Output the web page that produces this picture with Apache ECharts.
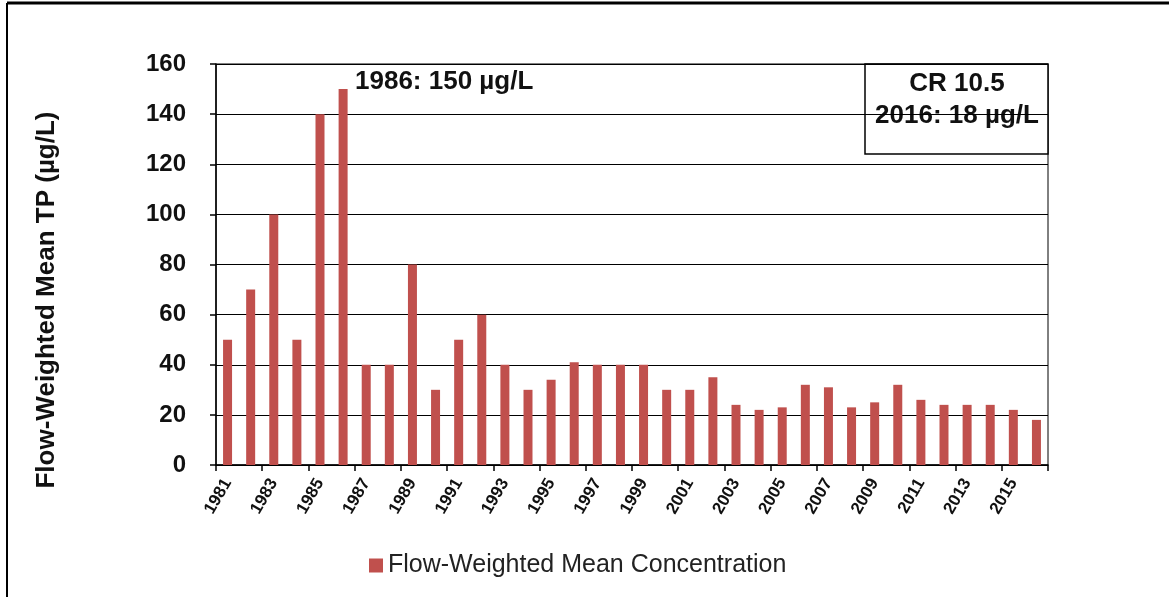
<!DOCTYPE html>
<html>
<head>
<meta charset="utf-8">
<script src="https://cdn.jsdelivr.net/npm/echarts@6/dist/echarts.min.js"></script>
<style>
  html, body { margin: 0; padding: 0; background: #fff; }
  #chart { width: 1169px; height: 597px; }
</style>
</head>
<body>
<div id="chart"></div>
<script>
// years 1981 - 2016
const years = ['1981', '1982', '1983', '1984', '1985', '1986', '1987', '1988', '1989', '1990',
  '1991', '1992', '1993', '1994', '1995', '1996', '1997', '1998', '1999', '2000',
  '2001', '2002', '2003', '2004', '2005', '2006', '2007', '2008', '2009', '2010',
  '2011', '2012', '2013', '2014', '2015', '2016']
// flow-weighted mean TP, µg/L
const tpValues = [50, 70, 100, 50, 140, 150, 40, 40, 80, 30,
  50, 60, 40, 30, 34, 41, 40, 40, 40, 30,
  30, 35, 24, 22, 23, 32, 31, 23, 25, 32,
  26, 24, 24, 24, 22, 18]
const seriesName = 'Flow-Weighted Mean Concentration'
const yAxisTitle = 'Flow-Weighted Mean TP (µg/L)'
const peakNote = '1986: 150 µg/L'
const boxLines = ['CR 10.5', '2016: 18 µg/L']

const font = 'Liberation Sans, Arial, sans-serif'
const chart = echarts.init(document.getElementById('chart'))

chart.setOption({
  animation: false,
  backgroundColor: '#fff',
  grid: {
    left: 216,
    right: 121,
    top: 64,
    bottom: 132,
    show: true,
    borderColor: '#000',
    borderWidth: 1
  },
  legend: {
    data: [seriesName],
    left: 364,
    top: 548,
    itemWidth: 14,
    itemHeight: 14,
    itemGap: 3,
    icon: 'rect',
    textStyle: { fontFamily: font, fontSize: 25, color: '#222' }
  },
  xAxis: {
    type: 'category',
    data: years,
    axisLine: { lineStyle: { color: '#000', width: 1.5 } },
    axisTick: { show: true, length: 6, lineStyle: { color: '#000', width: 1.5 } },
    axisLabel: {
      interval: 1,
      rotate: 60,
      margin: 15,
      fontFamily: font,
      fontWeight: 'bold',
      fontSize: 17,
      color: '#111'
    }
  },
  yAxis: {
    type: 'value',
    min: 0,
    max: 160,
    interval: 20,
    axisLine: { show: true, lineStyle: { color: '#000', width: 1.5 } },
    axisTick: { show: true, inside: false, length: 6, lineStyle: { color: '#000', width: 1.5 } },
    splitLine: { lineStyle: { color: '#000', width: 1.2 } },
    axisLabel: {
      margin: 30,
      fontFamily: font,
      fontWeight: 'bold',
      fontSize: 24,
      color: '#111'
    }
  },
  series: [{
    name: seriesName,
    type: 'bar',
    data: tpValues,
    barWidth: 9,
    itemStyle: { color: '#C0504D' }
  }],
  graphic: [
    // outer frame (top and left edges visible)
    { type: 'line', shape: { x1: 7, y1: 3, x2: 1169, y2: 3 }, style: { stroke: '#000', lineWidth: 3 } },
    { type: 'line', shape: { x1: 7, y1: 3, x2: 7, y2: 597 }, style: { stroke: '#000', lineWidth: 2 } },
    // y axis title
    {
      type: 'text',
      x: 47,
      y: 300,
      rotation: Math.PI / 2,
      style: {
        text: yAxisTitle,
        font: 'bold 26px ' + font,
        fill: '#111',
        align: 'center',
        verticalAlign: 'middle'
      }
    },
    // peak note
    {
      type: 'text',
      x: 355,
      y: 82,
      style: {
        text: peakNote,
        font: 'bold 26px ' + font,
        fill: '#111',
        align: 'left',
        verticalAlign: 'middle'
      }
    },
    // station box
    {
      type: 'rect',
      shape: { x: 865, y: 64, width: 183, height: 90 },
      style: { fill: '#fff', stroke: '#000', lineWidth: 1.5 }
    },
    {
      type: 'text',
      x: 957,
      y: 100,
      style: {
        text: boxLines.join('\n'),
        font: 'bold 26px ' + font,
        lineHeight: 32,
        fill: '#111',
        align: 'center',
        verticalAlign: 'middle'
      }
    }
  ]
})
</script>
</body>
</html>
